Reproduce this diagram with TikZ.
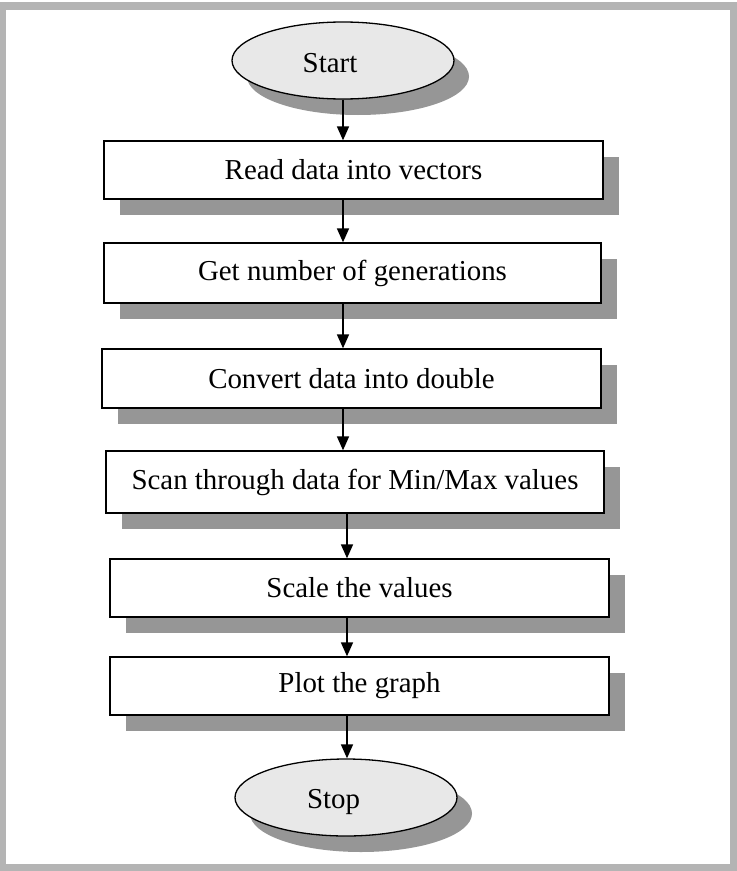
\documentclass[tikz,border=0pt]{standalone}
\usepackage{fontspec}
\setmainfont{Liberation Serif}
\usetikzlibrary{shapes.geometric,shadows,arrows.meta,calc}
\definecolor{framegray}{HTML}{B4B4B4}
\definecolor{shadowgray}{HTML}{969696}
\definecolor{termfill}{HTML}{E8E8E8}
\begin{document}
\begin{tikzpicture}[x=1bp,y=-1bp,
  font=\fontsize{29}{34}\selectfont,
  stepbox/.style={draw=black, line width=1.3bp, fill=white, rectangle,
    minimum width=499bp, minimum height=58bp, inner sep=0pt,
    drop shadow={shadow xshift=16bp, shadow yshift=-16bp,
      fill=shadowgray, opacity=1}},
  termbox/.style={draw=black, line width=1.3bp, fill=termfill, ellipse,
    minimum width=222bp, minimum height=77bp, inner sep=0pt,
    drop shadow={shadow xshift=15bp, shadow yshift=-16bp,
      fill=shadowgray, opacity=1}},
  arr/.style={line width=1.6bp, -{Triangle[width=12bp,length=14bp]}}]
  \useasboundingbox (0,0) rectangle (737,871);
  % outer frame
  \fill[framegray] (0,2) rectangle (737,871);
  \fill[white] (6,9.5) rectangle (730,864);

  % terminals
  \node[termbox] (start) at (343,60.5) {};
  \node at ($(start)+(-13,3)$) {Start};
  \node[termbox] (stop) at (346,797.5) {};
  \node at ($(stop)+(-12.5,5)$) {Stop};

  % process steps
  \node[stepbox] (b1) at (353.5,170) {Read data into vectors};
  \node[stepbox, minimum width=497bp, minimum height=60bp] (b2) at (352.5,273) {Get number of generations};
  \node[stepbox, minimum height=59bp] (b3) at (351.5,378.5) {Convert data into double};
  \node[stepbox, minimum width=498bp, minimum height=62bp] (b4) at (355,482) {Scan through data for Min/Max values};
  \node[stepbox] (b5) at (359.5,588) {Scale the values};
  \node[stepbox] (b6) at (359.5,686) {Plot the graph};

  % connector columns
  \coordinate (cl) at (343,0);
  \coordinate (cr) at (347,0);

  \draw[arr] (start.south) -- (b1.north -| start.south);
  \draw[arr] (b1.south -| cl) -- (b2.north -| cl);
  \draw[arr] (b2.south -| cl) -- (b3.north -| cl);
  \draw[arr] (b3.south -| cl) -- (b4.north -| cl);
  \draw[arr] (b4.south -| cr) -- (b5.north -| cr);
  \draw[arr] (b5.south -| cr) -- (b6.north -| cr);
  \draw[arr] (b6.south -| cr) -- (stop.north -| cr);
\end{tikzpicture}
\end{document}
